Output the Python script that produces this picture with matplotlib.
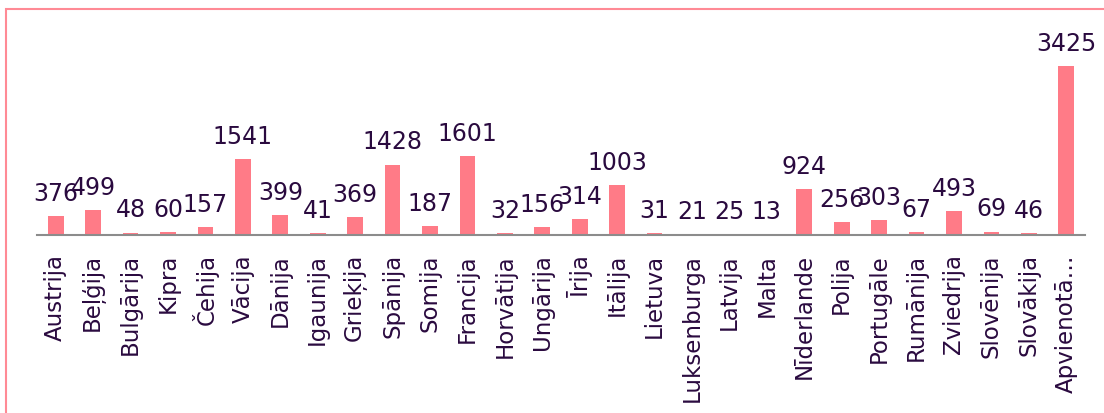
import matplotlib.pyplot as plt
from matplotlib.patches import Rectangle

countries = ['Austrija', 'Beļģija', 'Bulgārija', 'Kipra', 'Čehija', 'Vācija', 'Dānija',
             'Igaunija', 'Grieķija', 'Spānija', 'Somija', 'Francija', 'Horvātija',
             'Ungārija', 'Īrija', 'Itālija', 'Lietuva', 'Luksenburga', 'Latvija', 'Malta',
             'Nīderlande', 'Polija', 'Portugāle', 'Rumānija', 'Zviedrija', 'Slovēnija',
             'Slovākija', 'Apvienotā…']
values = [376, 499, 48, 60, 157, 1541, 399, 41, 369, 1428, 187, 1601, 32, 156, 314,
          1003, 31, 21, 25, 13, 924, 256, 303, 67, 493, 69, 46, 3425]

bar_color = '#FF7B87'
text_color = '#2A0A3F'

fig = plt.figure(figsize=(11.04, 4.14), dpi=100)
ax = fig.add_axes([37 / 1104, 0.43, (1085 - 37) / 1104, 0.976 - 0.43])

x = range(len(countries))
bars = ax.bar(x, values, width=0.42, color=bar_color)
ax.set_xlim(-0.5, len(countries) - 0.5)
ax.set_ylim(0, 4580)

for rect, v in zip(bars, values):
    ax.annotate(str(v), (rect.get_x() + rect.get_width() / 2, rect.get_height()),
                xytext=(0, 8), textcoords='offset points', ha='center', va='bottom',
                fontsize=17, color=text_color)

ax.set_xticks(list(x))
ax.set_xticklabels(countries, rotation=90, fontsize=16.5, color=text_color)
ax.tick_params(axis='x', length=0, pad=13)
ax.set_yticks([])
for side in ['top', 'right', 'left']:
    ax.spines[side].set_visible(False)
ax.spines['bottom'].set_color('#8C8C8C')
ax.spines['bottom'].set_linewidth(1.5)

# outer border (pink frame, cut off at right/bottom)
fig.patches.append(Rectangle((6 / 1104, -0.1), 1.2, (414 - 10) / 414 + 0.1,
                             transform=fig.transFigure, fill=False,
                             edgecolor='#FF8A95', linewidth=1.5))

fig.savefig('out.png', dpi=100)
